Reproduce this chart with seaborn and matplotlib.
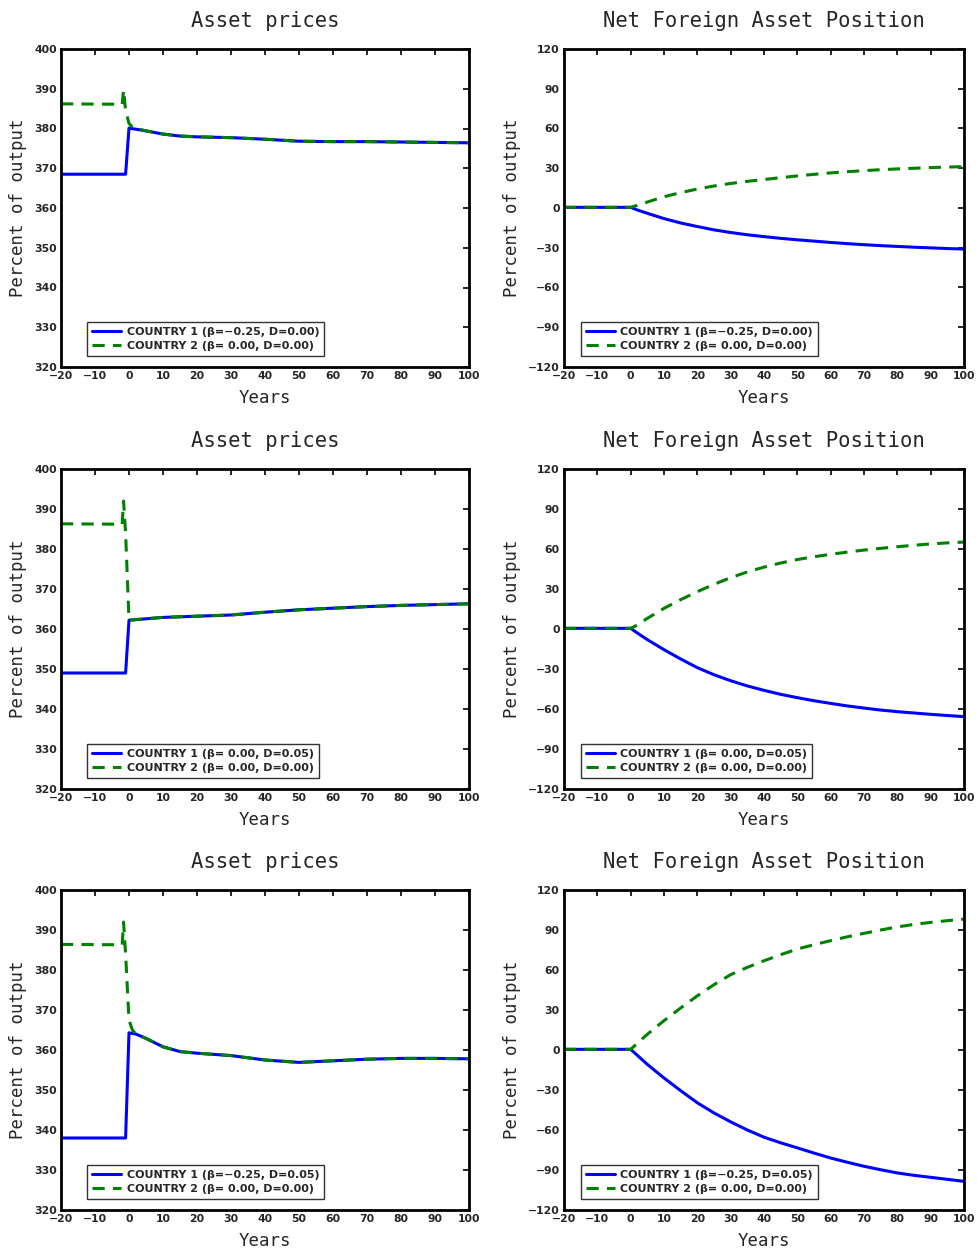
import numpy as np
import pandas as pd
import matplotlib
matplotlib.use('Agg')
import matplotlib.pyplot as plt
import seaborn as sns

# ---- data ----
years_nfa = [-20, 0, 2, 5, 10, 15, 20, 25, 30, 35, 40, 45, 50, 55, 60, 65, 70, 75, 80, 85, 90, 95, 100]

# row 1: beta=-0.25, D=0.00
ap1_c1_x = [-20, -1, 0, 5, 10, 15, 20, 30, 40, 50, 60, 70, 80, 90, 100]
ap1_c1_y = [368.5, 368.5, 380.1, 379.4, 378.6, 378.1, 377.9, 377.7, 377.3, 376.8, 376.7, 376.7, 376.6, 376.5, 376.4]
ap1_c2_x = [-20, -2, -1.6, -1, 0, 1, 5, 10, 15, 20, 30, 40, 50, 60, 70, 80, 90, 100]
ap1_c2_y = [386.2, 386.1, 389.7, 384.5, 381.3, 380.3, 379.4, 378.6, 378.1, 377.9, 377.7, 377.3, 376.8, 376.7, 376.7, 376.6, 376.5, 376.4]
nfa1_c1 = [0.5, 0.5, -1.5, -4.0, -8.0, -11.3, -14.0, -16.5, -18.5, -20.2, -21.6, -22.9, -24.0, -25.0,
           -26.0, -26.9, -27.7, -28.4, -29.0, -29.6, -30.1, -30.6, -31.0]
nfa1_c2 = [0.5, 0.5, 2.0, 4.5, 8.5, 11.6, 14.3, 16.6, 18.5, 20.1, 21.5, 22.9, 24.2, 25.4,
           26.5, 27.4, 28.2, 28.9, 29.5, 30.0, 30.5, 30.9, 31.2]

# row 2: beta=0.00, D=0.05
ap2_c1_x = [-20, -1, 0, 10, 20, 30, 40, 50, 60, 70, 80, 90, 100]
ap2_c1_y = [349.0, 349.0, 362.2, 362.9, 363.2, 363.5, 364.2, 364.8, 365.2, 365.6, 365.9, 366.1, 366.3]
ap2_c2_x = [-20, -2, -1.6, -1, 0, 10, 20, 30, 40, 50, 60, 70, 80, 90, 100]
ap2_c2_y = [386.3, 386.2, 392.0, 384.0, 362.2, 362.9, 363.2, 363.5, 364.2, 364.8, 365.2, 365.6, 365.9, 366.1, 366.3]
nfa2_c1 = [0.5, 0.5, -3.0, -8.0, -15.5, -22.5, -29.0, -34.3, -38.8, -42.7, -46.0, -49.0, -51.5, -53.8,
           -55.8, -57.7, -59.3, -60.8, -62.0, -63.0, -64.0, -64.9, -65.7]
nfa2_c2 = [0.5, 0.5, 3.0, 8.0, 15.5, 22.0, 28.0, 33.5, 38.5, 42.8, 46.4, 49.5, 52.1, 54.2,
           56.0, 57.7, 59.2, 60.5, 61.7, 62.8, 63.8, 64.6, 65.2]

# row 3: beta=-0.25, D=0.05
ap3_c1_x = [-20, -1, 0, 2, 5, 10, 15, 20, 30, 40, 50, 60, 70, 80, 90, 100]
ap3_c1_y = [338.0, 338.0, 364.3, 364.0, 362.9, 360.8, 359.6, 359.2, 358.6, 357.5, 356.9, 357.3, 357.7, 357.9, 357.9, 357.8]
ap3_c2_x = [-20, -2, -1.6, -1, 0, 1, 2, 5, 10, 15, 20, 30, 40, 50, 60, 70, 80, 90, 100]
ap3_c2_y = [386.4, 386.3, 392.0, 384.0, 367.5, 365.0, 364.0, 362.9, 360.8, 359.6, 359.2, 358.6, 357.5, 356.9, 357.3, 357.7, 357.9, 357.9, 357.8]
nfa3_c1 = [0.5, 0.5, -4.0, -10.8, -21.0, -30.5, -39.6, -47.2, -53.9, -60.0, -65.4, -69.6, -73.4, -77.3,
           -81.0, -84.2, -87.2, -89.8, -92.2, -94.0, -95.5, -97.0, -98.5]
nfa3_c2 = [0.5, 0.5, 5.0, 11.8, 22.0, 31.5, 40.6, 49.0, 56.5, 62.0, 66.9, 71.5, 75.7, 79.0,
           82.0, 84.9, 87.5, 90.0, 92.3, 94.2, 95.7, 97.0, 98.2]

labels_c1 = ['COUNTRY 1 (β=−0.25, D=0.00)', 'COUNTRY 1 (β= 0.00, D=0.05)', 'COUNTRY 1 (β=−0.25, D=0.05)']
label_c2 = 'COUNTRY 2 (β= 0.00, D=0.00)'

x_ticks = list(range(-20, 101, 10))
ap_ticks = list(range(320, 401, 10))
nfa_ticks = list(range(-120, 121, 30))

sns.set_style('white')
plt.rcParams['font.family'] = ['DejaVu Sans']
mono = 'DejaVu Sans Mono'

fig = plt.figure(figsize=(9.77, 12.49), dpi=100)

W, H = 977, 1249
rows_px = [(49, 367), (469, 789), (890, 1210)]
left_px = (61, 469)
right_px = (564, 964)

def make_ax(xp, yp):
    return fig.add_axes([xp[0] / W, 1 - yp[1] / H, (xp[1] - xp[0]) / W, (yp[1] - yp[0]) / H])

def style_ax(ax, yticks, title, ylab_x, leg_x):
    ax.set_xlim(-20, 100)
    ax.set_ylim(yticks[0], yticks[-1])
    ax.set_xticks(x_ticks)
    ax.set_yticks(yticks)
    ax.tick_params(direction='in', length=4.5, width=1.2, top=True, right=True,
                   labelsize=7.8, pad=3, color='black')
    for lab in ax.get_xticklabels() + ax.get_yticklabels():
        lab.set_fontweight('bold')
    for sp in ax.spines.values():
        sp.set_linewidth(2.0)
        sp.set_color('black')
    ax.set_title(title, family=mono, fontsize=14.8, pad=16)
    ax.set_xlabel('Years', family=mono, fontsize=12.5)
    ax.set_ylabel('Percent of output', family=mono, fontsize=12.5)
    ax.xaxis.set_label_coords(0.5, -0.068)
    ax.yaxis.set_label_coords(ylab_x, 0.5)
    leg = ax.legend(loc='lower left', bbox_to_anchor=(leg_x, 0.035), borderaxespad=0,
                    frameon=True, fancybox=False, handlelength=2.6, handletextpad=0.5,
                    borderpad=0.45, labelspacing=0.35,
                    prop={'weight': 'bold', 'size': 8.0})
    leg.get_frame().set_edgecolor('black')
    leg.get_frame().set_linewidth(1.0)

ap_data = [(ap1_c1_x, ap1_c1_y, ap1_c2_x, ap1_c2_y),
           (ap2_c1_x, ap2_c1_y, ap2_c2_x, ap2_c2_y),
           (ap3_c1_x, ap3_c1_y, ap3_c2_x, ap3_c2_y)]
nfa_data = [(nfa1_c1, nfa1_c2), (nfa2_c1, nfa2_c2), (nfa3_c1, nfa3_c2)]

dash = (0, (4, 2.7))

for i in range(3):
    ax = make_ax(left_px, rows_px[i])
    c1x, c1y, c2x, c2y = ap_data[i]
    sns.lineplot(x=c1x, y=c1y, ax=ax, color='#0000ff', linewidth=2.2, label=labels_c1[i], sort=False)
    sns.lineplot(x=c2x, y=c2y, ax=ax, color='#008000', linewidth=2.2, linestyle=dash, label=label_c2, sort=False)
    style_ax(ax, ap_ticks, 'Asset prices', -0.083, 0.064)

    ax = make_ax(right_px, rows_px[i])
    n1, n2 = nfa_data[i]
    sns.lineplot(x=years_nfa, y=n1, ax=ax, color='#0000ff', linewidth=2.2, label=labels_c1[i], sort=False)
    sns.lineplot(x=years_nfa, y=n2, ax=ax, color='#008000', linewidth=2.2, linestyle=dash, label=label_c2, sort=False)
    style_ax(ax, nfa_ticks, 'Net Foreign Asset Position', -0.1075, 0.0425)

fig.savefig('out.png', dpi=100)
